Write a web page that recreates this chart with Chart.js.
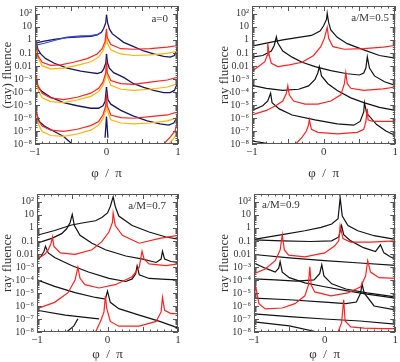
<!DOCTYPE html>
<html><head><meta charset="utf-8">
<script src="https://cdn.jsdelivr.net/npm/chart.js@4.4.1/dist/chart.umd.min.js"></script>
<style>
html,body{margin:0;padding:0;background:#fff;overflow:hidden;width:400px;height:362px;position:relative}
.p{position:absolute}
</style></head><body>
<div class="p" style="left:0;top:-3px"><canvas id="c1" width="200" height="184"></canvas></div>
<div class="p" style="left:200px;top:-3px"><canvas id="c2" width="200" height="184"></canvas></div>
<div class="p" style="left:0;top:185px"><canvas id="c3" width="200" height="177"></canvas></div>
<div class="p" style="left:200px;top:185px"><canvas id="c4" width="200" height="177"></canvas></div>
<script>
// ---------- tick labels ----------
const Y_TICK_VALUES = [1e2,1e1,1,1e-1,1e-2,1e-3,1e-4,1e-5,1e-6,1e-7,1e-8];
const Y_TICK_LABELS = ['10²','10','1','0.1','0.01','10⁻³','10⁻⁴','10⁻⁵','10⁻⁶','10⁻⁷','10⁻⁸'];
const X_TICK_VALUES = [-1,0,1];
const X_TICK_LABELS = ['−1','0','1'];

// ---------- data: segments of [phi/pi, fluence] ----------
// a = 0
const a0_black = [
 [[-1,0.57],[-0.87,0.8],[-0.73,1.1],[-0.55,1.5],[-0.36,1.7],[-0.22,1.9],[-0.13,2.4],[-0.07,3.8],[-0.04,7.4],[-0.01,21],[0,85]],
 [[0,85],[0.015,21],[0.04,7],[0.08,3],[0.15,1.5],[0.24,0.64],[0.38,0.3],[0.52,0.14],[0.66,0.083],[0.8,0.053],[0.89,0.047],[0.95,0.063],[0.98,0.14],[1,0.76]],
 [[-0.98,0.51],[-0.96,0.19],[-0.92,0.083],[-0.85,0.036],[-0.73,0.016],[-0.55,0.0068],[-0.36,0.0039],[-0.22,0.003],[-0.13,0.0026],[-0.07,0.0033],[-0.04,0.0057],[-0.01,0.016],[0,0.083]],
 [[0,0.083],[0.015,0.016],[0.04,0.0068],[0.1,0.003],[0.24,0.0013],[0.38,4.3e-4],[0.52,2.2e-4],[0.66,1.3e-4],[0.8,9e-5],[0.89,9e-5],[0.95,1.3e-4],[0.98,3.2e-4],[1,2.2e-3]],
 [[-0.98,7.4e-4],[-0.96,2.4e-4],[-0.9,1.05e-4],[-0.78,3.9e-5],[-0.6,1.5e-5],[-0.41,8.7e-6],[-0.22,5.6e-6],[-0.11,5.6e-6],[-0.05,8.7e-6],[-0.02,1.8e-5],[0,2.4e-4]],
 [[0,2.4e-4],[0.02,2.6e-5],[0.06,1.15e-5],[0.2,3.8e-6],[0.38,1.4e-6],[0.57,6e-7],[0.75,3.5e-7],[0.87,2.8e-7],[0.94,4.1e-7],[0.98,9.5e-7],[1,3.8e-6]],
 [[-0.98,2.2e-6],[-0.94,5.4e-7],[-0.87,2.4e-7],[-0.73,9.2e-8],[-0.6,3.8e-8],[-0.48,1e-8]],
 [[-0.02,3e-8],[0,1.3e-6],[0.02,3e-8]]
];
const a0_blue = [
 [[-1,0.37],[-0.87,0.55],[-0.73,0.9],[-0.55,1.6],[-0.36,2.0],[-0.22,2.1],[-0.13,2.5],[-0.07,3.8]]
];
const a0_red = [
 [[-0.99,0.44],[-0.96,0.063],[-0.9,0.019],[-0.78,0.011],[-0.64,0.012],[-0.46,0.019],[-0.27,0.036],[-0.13,0.083],[-0.06,0.21],[-0.02,0.76],[0,7]],
 [[0,7],[0.01,1.5],[0.06,0.44],[0.2,0.21],[0.38,0.19],[0.61,0.21],[0.85,0.28],[1,0.37]],
 [[-0.98,0.0017],[-0.96,3.2e-4],[-0.9,8e-5],[-0.78,3.5e-5],[-0.6,2.6e-5],[-0.41,3.9e-5],[-0.22,8e-5],[-0.11,1.9e-4],[-0.05,5.6e-4],[-0.01,0.003],[0,0.027]],
 [[0,0.027],[0.01,0.003],[0.06,7.4e-4],[0.2,4.3e-4],[0.38,3.8e-4],[0.61,5.6e-4],[0.85,8.3e-4],[1,1.4e-3]],
 [[-0.98,3.8e-6],[-0.96,7.2e-7],[-0.9,2.4e-7],[-0.78,1.15e-7],[-0.6,9.2e-8],[-0.41,1.35e-7],[-0.22,2.6e-7],[-0.11,5.4e-7],[-0.05,1.7e-6],[-0.01,8.7e-6],[0,8e-5]],
 [[0,8e-5],[0.01,8.7e-6],[0.06,1.7e-6],[0.2,1.05e-6],[0.38,9.5e-7],[0.61,1.26e-6],[0.85,1.7e-6],[1,2.9e-6]],
 [[0.8,1e-8],[0.89,3.4e-8],[0.96,1e-7],[1,9.5e-7]]
];
const a0_orange = [
 [[-0.98,0.25],[-0.95,0.036],[-0.9,0.01],[-0.78,0.006],[-0.6,0.0068],[-0.41,0.011],[-0.22,0.021],[-0.11,0.047],[-0.05,0.14],[-0.01,0.57],[0,4]],
 [[0,4],[0.01,0.57],[0.06,0.17],[0.2,0.083],[0.38,0.063],[0.61,0.07],[0.85,0.092],[1,0.14]],
 [[-0.98,7.4e-4],[-0.95,1.05e-4],[-0.9,3.5e-5],[-0.78,1.8e-5],[-0.6,1.5e-5],[-0.41,2.4e-5],[-0.22,4.6e-5],[-0.11,1.05e-4],[-0.05,3.2e-4],[-0.01,1.3e-3],[0,0.012]],
 [[0,0.012],[0.01,1.7e-3],[0.06,3.2e-4],[0.2,1.6e-4],[0.38,1.3e-4],[0.61,1.6e-4],[0.85,2.4e-4],[1,4.3e-4]],
 [[-0.98,1.7e-6],[-0.95,3.1e-7],[-0.9,9.2e-8],[-0.78,4.5e-8],[-0.6,3.8e-8],[-0.41,5.9e-8],[-0.22,1.15e-7],[-0.11,2.8e-7],[-0.05,8.5e-7],[-0.01,3.8e-6],[0,2.6e-5]],
 [[0,2.6e-5],[0.01,3.8e-6],[0.06,7.2e-7],[0.2,4.1e-7],[0.38,3.5e-7],[0.61,4.1e-7],[0.85,6e-7],[1,1.05e-6]],
 [[0.87,1e-8],[0.94,2.6e-8],[0.98,5.9e-8],[1,1.8e-7]]
];

// a/M = 0.5
const a05_black = [
 [[-1,0.33],[-0.8,0.57],[-0.57,1.0],[-0.35,1.56],[-0.17,2.2],[-0.05,4.7],[0,12],[0.04,37],[0.05,112],[0.07,21],[0.1,5.9],[0.19,1.56],[0.33,0.51],[0.56,0.17],[0.78,0.063],[1,0.04]],
 [[-1,0.047],[-0.85,0.063],[-0.73,0.14],[-0.69,0.37],[-0.66,1.7],[-0.64,0.57],[-0.57,0.14],[-0.44,0.047],[-0.3,0.019],[-0.12,0.0089],[0.1,0.0044],[0.33,0.0025],[0.5,0.002],[0.56,0.0028],[0.59,0.0068],[0.61,0.05],[0.64,0.0068],[0.71,0.0017],[0.85,6e-4],[1,3.2e-4]],
 [[-1,3.2e-4],[-0.8,1.9e-4],[-0.57,1.3e-4],[-0.35,1.6e-4],[-0.21,2.9e-4],[-0.12,9e-4],[-0.08,3e-3],[-0.06,0.009],[-0.04,0.0033],[-0.03,0.0017],[0.06,4.3e-4],[0.19,1.3e-4],[0.38,3.5e-5],[0.56,1.5e-5],[0.78,6.6e-6],[1,3.8e-6]],
 [[-1,3.8e-6],[-0.85,8.7e-6],[-0.78,2e-5],[-0.74,8e-5],[-0.72,1.5e-5],[-0.62,5e-6],[-0.44,1.7e-6],[-0.12,7.2e-7],[0.19,3.5e-7],[0.42,2.8e-7],[0.51,5.4e-7],[0.56,2.9e-6],[0.57,1.5e-5],[0.6,2.4e-6],[0.74,3.1e-7],[0.87,1e-7],[1,4.5e-8]],
 [[-1,1.7e-8],[-0.8,1.1e-8],[-0.75,1e-8]]
];
const a05_red = [
 [[-1,0.0039],[-0.91,0.0089],[-0.82,0.021],[-0.79,0.063],[-0.78,0.57],[-0.76,0.063],[-0.73,0.016],[-0.64,0.0089],[-0.48,0.012],[-0.3,0.019],[-0.14,0.063],[-0.04,0.3],[0.01,1.3],[0.05,9.2],[0.07,1.3],[0.13,0.3],[0.29,0.19],[0.56,0.21],[0.83,0.28],[1,0.37]],
 [[-1,1.7e-6],[-0.8,3.8e-6],[-0.67,8.7e-6],[-0.57,2e-5],[-0.52,8e-5],[-0.5,3e-4],[-0.48,6e-5],[-0.42,2e-5],[-0.26,1.15e-5],[-0.08,1.15e-5],[0.1,2e-5],[0.24,6e-5],[0.29,4.3e-4],[0.31,3e-3],[0.33,4.3e-4],[0.38,1.9e-4],[0.56,1.3e-4],[0.83,1.7e-4],[1,2.4e-4]],
 [[-0.39,1e-8],[-0.3,3.4e-8],[-0.24,1e-7],[-0.21,3.1e-7],[-0.2,7.2e-7],[-0.17,1.35e-7],[-0.08,7.8e-8],[0.19,5.9e-8],[0.47,7.8e-8],[0.56,1.35e-7],[0.59,5.4e-7],[0.61,5e-6],[0.62,7.2e-7],[0.69,5.4e-7],[1,5.4e-7]]
];

// a/M = 0.7
const a07_black = [
 [[-1,0.27],[-0.75,0.63],[-0.51,1.66],[-0.32,2.6],[-0.17,3.5],[-0.08,6.2],[0,14],[0.04,44],[0.08,240],[0.11,44],[0.16,8.1],[0.35,1.5],[0.59,0.48],[0.83,0.2],[1,0.138]],
 [[-1,0.066],[-0.79,0.155],[-0.65,0.36],[-0.58,0.85],[-0.53,2.6],[-0.5,10.7],[-0.47,1.5],[-0.39,0.27],[-0.22,0.066],[-0.03,0.021],[0.26,0.0069],[0.5,0.004],[0.69,0.0022],[0.76,0.004],[0.78,0.016],[0.81,0.004],[0.9,0.0026],[1,0.0022]],
 [[-1,0.003],[-0.94,0.0069],[-0.9,0.016],[-0.88,0.038],[-0.84,0.012],[-0.75,0.0052],[-0.51,0.00127],[-0.27,4.1e-4],[0.02,1.33e-4],[0.26,7.6e-5],[0.35,1.2e-4],[0.4,3e-4],[0.42,0.0012],[0.45,2.5e-4],[0.59,1.3e-4],[0.83,1.1e-4],[1,1e-4]],
 [[-1,1e-4],[-0.75,3.2e-5],[-0.46,1.05e-5],[-0.17,4.5e-6],[-0.03,3.4e-6],[0,1.38e-5],[0.04,1.9e-6],[0.16,6.2e-7],[0.45,2e-7],[0.74,6.5e-8],[0.93,2.8e-8],[1,2e-8]],
 [[-1,4.7e-7],[-0.6,2e-7],[-0.22,1.15e-7],[-0.12,1.02e-7]],
 [[-0.58,1e-8],[-0.48,2.8e-8],[-0.42,1.02e-7]]
];
const a07_red = [
 [[-1,0.004],[-0.89,0.0092],[-0.84,0.021],[-0.8,0.066],[-0.78,0.2],[-0.76,0.038],[-0.67,0.012],[-0.46,0.0092],[-0.22,0.021],[-0.08,0.088],[0.02,0.48],[0.07,2.6],[0.08,14],[0.11,1.5],[0.21,0.27],[0.45,0.066],[0.74,0.155],[1,0.27]],
 [[-1,6.2e-7],[-0.75,1.9e-6],[-0.56,1.05e-5],[-0.46,1e-4],[-0.42,9.6e-4],[-0.39,1.33e-4],[-0.32,4.3e-5],[-0.12,2.4e-5],[0.11,4.3e-5],[0.35,1.77e-4],[0.45,9.6e-4],[0.49,0.016],[0.52,0.004],[0.59,0.0017],[0.83,0.00127],[1,0.0017]],
 [[-0.17,1e-8],[-0.1,6.5e-8],[-0.05,3.5e-7],[-0.03,5.9e-6],[-0.01,6.2e-7],[0.04,6.5e-8],[0.16,2.8e-8],[0.45,2.8e-8],[0.69,6.5e-8],[0.76,3.5e-7],[0.78,4.5e-6],[0.81,4.7e-7],[0.9,2.6e-7],[1,2.6e-7]]
];

// a/M = 0.9
const a09_black = [
 [[-1,0.13],[-0.6,0.3],[-0.28,0.6],[-0.05,1.1],[0.1,2],[0.19,5],[0.22,200],[0.25,8],[0.33,1.5],[0.47,0.6],[0.7,0.25],[1,0.13]],
 [[-1,0.12],[-0.6,0.1],[-0.2,0.09],[0.1,0.1],[0.2,0.2],[0.24,1.5],[0.27,0.3],[0.37,0.1],[0.55,0.03],[0.72,0.015],[0.79,0.05],[0.84,0.012],[0.93,0.006],[1,0.004]],
 [[-1,0.009],[-0.5,0.005],[0,0.003],[0.5,0.002],[1,0.0013]],
 [[-1,0.002],[-0.84,8e-4],[-0.7,4e-4],[-0.65,8e-4],[-0.63,2.5e-3],[-0.6,4e-4],[-0.5,1.5e-4],[-0.28,6e-5],[0,3e-5],[0.3,1.5e-5],[0.6,8e-6],[1,4e-6]],
 [[-1,1.2e-4],[-0.7,1e-4],[-0.4,8e-5],[-0.15,1e-4],[-0.07,3e-4],[-0.04,1.5e-3],[-0.01,2e-4],[0.1,5e-5],[0.3,2e-5],[0.6,1e-5],[1,5e-6]],
 [[-1,4e-6],[-0.5,3e-6],[0,2e-6],[0.3,1.5e-6],[0.45,2e-6],[0.51,1e-5],[0.53,5e-5],[0.56,1e-5],[0.7,1e-6],[1,5e-7]],
 [[-1,2.5e-7],[-0.5,1.5e-7],[0,1e-7],[0.5,7e-8],[1,4e-8]],
 [[-1,6e-8],[-0.5,3e-8],[-0.1,1e-8]]
];
const a09_red = [
 [[-1,3e-4],[-0.84,7e-4],[-0.7,3e-3],[-0.63,0.02],[-0.6,0.3],[-0.57,0.02],[-0.51,0.008],[-0.28,0.006],[0,0.012],[0.14,0.04],[0.2,0.1],[0.22,1.5],[0.26,0.15],[0.37,0.08],[0.65,0.08],[1,0.1]],
 [[-1,1e-6],[-0.98,4e-5],[-0.93,1.5e-6],[-0.84,6e-7],[-0.6,7e-7],[-0.42,1.5e-6],[-0.28,6e-6],[-0.23,4e-5],[-0.21,1e-3],[-0.19,4e-5],[-0.14,1.2e-5],[0.09,6e-6],[0.33,1e-5],[0.51,3e-5],[0.58,2e-4],[0.61,3e-3],[0.65,4e-4],[0.77,1.5e-4],[1,1.3e-4]],
 [[0.19,1e-8],[0.24,5e-8],[0.27,3e-6],[0.29,7e-8],[0.37,2.5e-8],[0.56,2e-8],[0.84,1.8e-8],[1,1.8e-8]]
];

// ---------- styling ----------
const FONT = '"Liberation Serif", "DejaVu Serif", serif';
const COL = {black:'#111111', navy:'#17175e', blue:'#3344ee', red:'#ff2222', orange:'#ffb400'};

function makeSets(groups){
  const out = [];
  for (const [segs, color, w] of groups){
    for (const s of segs){
      out.push({data: s.map(p => ({x:p[0], y:p[1]})), borderColor: color, backgroundColor: color,
        borderWidth: w, pointRadius: 0, showLine: true, fill: false, tension: 0});
    }
  }
  return out;
}

const framePlugin = {
  id: 'frame',
  afterDatasetsDraw(chart, args, o){
    const {ctx, chartArea:a, scales:{x, y}} = chart;
    ctx.save();
    ctx.strokeStyle = '#555'; ctx.lineWidth = 1;
    ctx.strokeRect(Math.round(a.left)+0.5, Math.round(a.top)+0.5, Math.round(a.right-a.left)-1, Math.round(a.bottom-a.top)-1);
    ctx.beginPath();
    for (let k = -8; k <= 2; k++) for (let m = 1; m <= 9; m++){
      const v = m * Math.pow(10, k);
      if (v > y.max) continue;
      const py = Math.round(y.getPixelForValue(v)) + 0.5;
      const L = m === 1 ? 5 : 2.5;
      ctx.moveTo(a.left, py); ctx.lineTo(a.left + L, py);
      ctx.moveTo(a.right, py); ctx.lineTo(a.right - L, py);
    }
    for (let i = -10; i <= 10; i++){
      const px = Math.round(x.getPixelForValue(i / 10)) + 0.5;
      const L = (i % 5 === 0) ? 5 : 2.5;
      ctx.moveTo(px, a.bottom); ctx.lineTo(px, a.bottom - L);
      ctx.moveTo(px, a.top); ctx.lineTo(px, a.top + L);
    }
    ctx.stroke();
    ctx.fillStyle = '#333'; ctx.font = '11px ' + FONT;
    ctx.textAlign = o.align; ctx.textBaseline = 'middle';
    ctx.fillText(o.text, o.x, o.y);
    ctx.restore();
  }
};

function makeChart(id, groups, cfg){
  new Chart(document.getElementById(id), {
    type: 'scatter',
    data: {datasets: makeSets(groups)},
    plugins: [framePlugin],
    options: {
      responsive: false, animation: false, events: [],
      layout: {padding: {left: cfg.padL, right: cfg.padR, top: cfg.padT, bottom: 0}},
      plugins: {legend: {display: false}, tooltip: {enabled: false},
        frame: {text: cfg.label, x: cfg.lx, y: cfg.ly, align: cfg.align}},
      scales: {
        x: {type: 'linear', min: -1, max: 1,
          afterBuildTicks: s => { s.ticks = X_TICK_VALUES.map(v => ({value: v})); },
          afterFit: s => { s.height = cfg.xH; },
          ticks: {autoSkip: false, maxRotation: 0, padding: 2, color: '#333', font: {family: FONT, size: 11},
            callback: v => X_TICK_LABELS[X_TICK_VALUES.indexOf(v)]},
          grid: {display: false, drawTicks: false}, border: {display: false},
          title: {display: true, text: 'φ  /  π', color: '#333', font: {family: FONT, size: 13}, padding: {top: cfg.xtPad, bottom: 0}}
        },
        y: {type: 'logarithmic', min: 1e-8, max: 400,
          afterBuildTicks: s => { s.ticks = Y_TICK_VALUES.map(v => ({value: v})); },
          afterFit: s => { s.width = cfg.yW; },
          ticks: {autoSkip: false, padding: 3, color: '#333', font: {family: FONT, size: 10},
            callback: v => { const i = Y_TICK_VALUES.findIndex(t => Math.abs(Math.log10(t) - Math.log10(v)) < 1e-6); return i < 0 ? '' : Y_TICK_LABELS[i]; }},
          grid: {display: false, drawTicks: false}, border: {display: false},
          title: {display: true, text: cfg.ytitle, color: '#333', font: {family: FONT, size: 13}, padding: {top: 0, bottom: 0}}
        }
      }
    }
  });
}

makeChart('c1', [[a0_red, COL.red, 1.2], [a0_orange, COL.orange, 1.2], [a0_blue, COL.blue, 1.2], [a0_black, COL.navy, 1.3]],
  {padL: 0, padR: 22, padT: 0, yW: 35, xH: 37, xtPad: 8, ytitle: '(ray) fluence', label: 'a=0', lx: 168, ly: 22, align: 'right'});
makeChart('c2', [[a05_red, COL.red, 1.2], [a05_black, COL.black, 1.2]],
  {padL: 17, padR: 1, padT: 0, yW: 35, xH: 37, xtPad: 8, ytitle: 'ray fluence', label: 'a/M=0.5', lx: 189, ly: 21, align: 'right'});
makeChart('c3', [[a07_red, COL.red, 1.2], [a07_black, COL.black, 1.2]],
  {padL: 0, padR: 22, padT: 3, yW: 37, xH: 30, xtPad: 3, ytitle: 'ray fluence', label: 'a/M=0.7', lx: 166, ly: 21, align: 'right'});
makeChart('c4', [[a09_red, COL.red, 1.2], [a09_black, COL.black, 1.2]],
  {padL: 17, padR: 2, padT: 3, yW: 37, xH: 30, xtPad: 3, ytitle: 'ray fluence', label: 'a/M=0.9', lx: 62, ly: 20, align: 'left'});
</script>
</body></html>
